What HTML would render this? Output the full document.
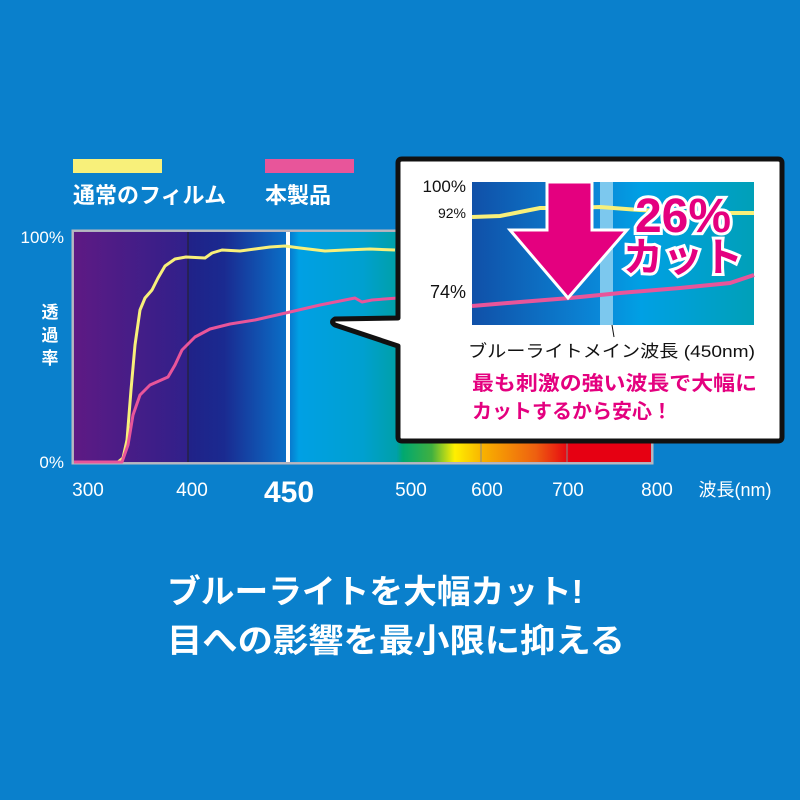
<!DOCTYPE html>
<html><head><meta charset="utf-8"><style>
html,body{margin:0;padding:0;background:#0a80cc;}
svg{display:block;font-family:"Liberation Sans","Noto Sans CJK JP",sans-serif;}
</style></head><body>
<svg width="800" height="800" viewBox="0 0 800 800" xmlns="http://www.w3.org/2000/svg">
<defs>
<linearGradient id="spec" x1="74" y1="0" x2="651" y2="0" gradientUnits="userSpaceOnUse">
<stop offset="0" stop-color="#5e1a84"/>
<stop offset="0.197" stop-color="#30208a"/>
<stop offset="0.2" stop-color="#202288"/>
<stop offset="0.26" stop-color="#1a2a90"/>
<stop offset="0.37" stop-color="#0a70c8"/>
<stop offset="0.39" stop-color="#00a0e4"/>
<stop offset="0.5" stop-color="#00a0d0"/>
<stop offset="0.56" stop-color="#00a0a8"/>
<stop offset="0.56" stop-color="#00a0a8"/>
<stop offset="0.55" stop-color="#00a0a4"/>
<stop offset="0.57" stop-color="#00a870"/>
<stop offset="0.62" stop-color="#40b040"/>
<stop offset="0.66" stop-color="#fff000"/>
<stop offset="0.71" stop-color="#f8b000"/>
<stop offset="0.8" stop-color="#ee6010"/>
<stop offset="0.86" stop-color="#e60012"/>
<stop offset="1" stop-color="#e60012"/>
</linearGradient>
<linearGradient id="inner" x1="472" y1="0" x2="754" y2="0" gradientUnits="userSpaceOnUse">
<stop offset="0" stop-color="#1050a8"/>
<stop offset="0.45" stop-color="#0a88d8"/>
<stop offset="0.6" stop-color="#00a0e4"/>
<stop offset="1" stop-color="#00a0b8"/>
</linearGradient>
</defs>

<!-- legend -->
<rect x="73" y="159" width="89" height="14" fill="#f8f07a"/>
<text x="73" y="203" font-size="22" font-weight="bold" fill="#fff">通常のフィルム</text>
<rect x="265" y="159" width="89" height="14" fill="#e8559a"/>
<text x="265" y="203" font-size="22" font-weight="bold" fill="#fff">本製品</text>

<!-- chart -->
<rect x="72.5" y="230.5" width="580" height="233" fill="#aab" stroke="#b8b8c0" stroke-width="2"/>
<rect x="74" y="232" width="577" height="230" fill="url(#spec)"/>
<line x1="188" y1="232" x2="188" y2="462" stroke="#222" stroke-width="1"/>
<line x1="481" y1="440" x2="481" y2="462" stroke="#888" stroke-width="1"/>
<line x1="567" y1="440" x2="567" y2="462" stroke="#888" stroke-width="1"/>
<rect x="286" y="232" width="4" height="230" fill="#fff"/>

<polyline fill="none" stroke="#f8f07a" stroke-width="3" stroke-linejoin="round" points="74,462 118,462 123,458 127,440 131,390 135,345 140,310 145,298 152,290 158,278 165,266 175,259 186,257 205,258 212,253 222,250 240,251 255,249 270,247 285,246 300,248 325,251 345,250 370,249 395,250"/>
<polyline fill="none" stroke="#e8559a" stroke-width="3" stroke-linejoin="round" points="74,462 122,462 128,445 133,415 140,395 150,385 168,377 175,365 182,350 195,337 210,329 230,324 255,320 290,312 320,305 345,300 355,298 362,302 372,300 398,298"/>

<!-- y labels -->
<text x="64" y="243" font-size="17" fill="#fff" text-anchor="end">100%</text>
<text x="64" y="468" font-size="17" fill="#fff" text-anchor="end">0%</text>
<text x="50" y="318" font-size="17" font-weight="bold" fill="#fff" text-anchor="middle">透</text>
<text x="50" y="341" font-size="17" font-weight="bold" fill="#fff" text-anchor="middle">過</text>
<text x="50" y="364" font-size="17" font-weight="bold" fill="#fff" text-anchor="middle">率</text>

<!-- x labels -->
<g font-size="19" fill="#fff" text-anchor="middle">
<text x="88" y="496">300</text>
<text x="192" y="496">400</text>
<text x="411" y="496">500</text>
<text x="487" y="496">600</text>
<text x="568" y="496">700</text>
<text x="657" y="496">800</text>
<text x="735" y="496" font-size="18">波長(nm)</text>
</g>
<text x="289" y="502" font-size="30" font-weight="bold" fill="#fff" text-anchor="middle">450</text>

<!-- callout -->
<path d="M402,159 L778,159 Q782,159 782,163 L782,437 Q782,441 778,441 L402,441 Q398,441 398,437 L398,346 L335,325 Q330,322 335,319 L398,318 L398,163 Q398,159 402,159 Z" fill="#fff" stroke="#111" stroke-width="5" stroke-linejoin="round"/>

<rect x="472" y="182" width="282" height="143" fill="url(#inner)"/>
<rect x="600" y="182" width="13" height="143" fill="#7cc8ee"/>
<polyline fill="none" stroke="#f8f07a" stroke-width="4" points="472,217 500,216 520,212 540,208 570,208 600,207 640,210 700,213 754,213"/>
<polyline fill="none" stroke="#e8559a" stroke-width="4" points="472,306 520,302 570,298 620,293 680,288 730,283 754,275"/>
<line x1="612" y1="325" x2="614" y2="337" stroke="#111" stroke-width="1"/>

<path d="M547,182 L592,182 L592,230 L627,230 L568,298 L510,230 L547,230 Z" fill="#e4007f" stroke="#fff" stroke-width="3" stroke-linejoin="miter"/>

<g font-size="48" font-weight="bold" fill="#e4007f" stroke="#fff" stroke-width="6" paint-order="stroke" text-anchor="middle">
<text x="683" y="232">26%</text>
<text x="683" y="271" font-size="40">カット</text>
</g>

<text x="466" y="192" font-size="17" fill="#111" text-anchor="end">100%</text>
<text x="466" y="218" font-size="14" fill="#111" text-anchor="end">92%</text>
<text x="466" y="298" font-size="18" fill="#111" text-anchor="end">74%</text>

<text x="468" y="357" font-size="17" fill="#111" textLength="287" lengthAdjust="spacingAndGlyphs">ブルーライトメイン波長 (450nm)</text>
<text x="472" y="390" font-size="20" font-weight="bold" fill="#e4007f" textLength="285" lengthAdjust="spacingAndGlyphs">最も刺激の強い波長で大幅に</text>
<text x="472" y="418" font-size="20" font-weight="bold" fill="#e4007f">カットするから安心！</text>

<!-- bottom text -->
<text x="167" y="603" font-size="33" font-weight="bold" fill="#fff" textLength="416" lengthAdjust="spacingAndGlyphs">ブルーライトを大幅カット!</text>
<text x="167" y="652" font-size="33" font-weight="bold" fill="#fff" textLength="458" lengthAdjust="spacingAndGlyphs">目への影響を最小限に抑える</text>
</svg>
</body></html>
